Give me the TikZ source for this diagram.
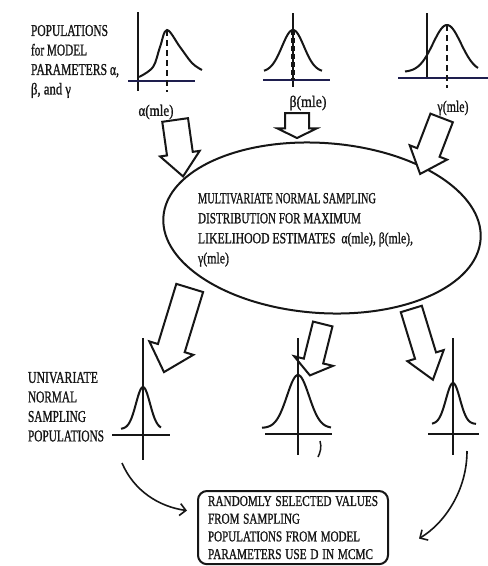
\documentclass[tikz,border=0pt]{standalone}
\usepackage{fontspec}
\usepackage{graphicx}
\setmainfont{Liberation Serif}
\newfontfamily\scanfont[FakeBold=1.2]{Liberation Serif}
\usepackage{tikz}
\usetikzlibrary{shapes.geometric,shapes.arrows,arrows.meta}
\definecolor{inkblack}{RGB}{22,22,22}
\definecolor{axisnavy}{RGB}{30,30,78}
% squeeze one line of text to the width it has on the page
\newcommand{\fitw}[2]{\resizebox{#1}{\height}{#2}}

\begin{document}
\begin{tikzpicture}[x=1pt, y=-1pt, inkblack, line width=2pt,
      lab/.style = {font={\scanfont\fontsize{16.5}{19.5}\selectfont},
                    align=left, inner sep=0pt, anchor=north west},
      plotlab/.style = {font={\scanfont\fontsize{16}{19}\selectfont}, inner sep=0pt},
      elltext/.style = {font={\scanfont\fontsize{15.5}{20}\selectfont},
                    align=left, inner sep=0pt, anchor=north west},
      selbox/.style = {draw, rounded corners=9pt, anchor=north west,
                    text width=170pt, inner xsep=10pt, inner ysep=5pt, align=left,
                    font={\scanfont\fontsize{15}{17.7}\selectfont}},
      barr/.style = {single arrow, draw, fill=white, anchor=tail, inner xsep=0pt,
                    single arrow head indent=0pt},
      axis/.style = {axisnavy, line width=1.7pt},
      mle/.style = {dash pattern=on 6pt off 4pt, line width=2pt},
      curv/.style = {line width=1.6pt, -{Straight Barb[length=6pt,width=12pt]}},
    ]
    \fill[white] (0,0) rectangle (488,566);
    \useasboundingbox (0,0) rectangle (488,566);

    % populations of the model parameters
    \node[lab] (poplab) at (30,24) {\fitw{77pt}{POPULATIONS}\\\fitw{56pt}{for MODEL}\\
      \fitw{88pt}{PARAMETERS α,}\\\fitw{40pt}{β, and γ}};

    \draw (138,12) -- (138,91);
    \draw[axis] (128,81) -- (195,81);
    \draw plot[smooth, tension=0.6] coordinates
      {(139,77) (153,67) (160,47) (167,30) (180,47) (192,63) (202,70)};
    \draw[mle] (167,30) -- (167,92);
    \node[plotlab] (alab) at (156,112) {\fitw{35pt}{α(mle)}};

    \draw (293,13) -- (293,87);
    \draw[axis] (263,80) -- (330,80);
    \draw plot[domain=-29:29, samples=60, smooth]
      ({293+\x}, {72-42*exp(-0.5*(\x/11)*(\x/11))});
    \draw[dash pattern=on 5pt off 3pt, line width=3.4pt] (293,30) -- (293,80);
    \node[plotlab] (blab) at (308,103) {\fitw{37pt}{β(mle)}};

    \draw (427,13) -- (427,78);
    \draw[axis] (398,78) -- (488,78);
    \draw plot[domain=-42:31, samples=60, smooth]
      ({447+\x}, {72-47*exp(-0.5*(\x/14)*(\x/14))});
    \draw[mle] (447,25) -- (447,88);
    \node[plotlab] (glab) at (453,108) {\fitw{31pt}{γ(mle)}};

    % multivariate sampling distribution
    \node[draw, ellipse, minimum width=318pt, minimum height=170pt,
          inner sep=0pt, rotate=-4] (mvn) at (322,228) {};
    \node[elltext] (mvntext) at (197,192)
      {\fitw{178pt}{MULTIVARIATE NORMAL SAMPLING}\\\fitw{163pt}{DISTRIBUTION FOR MAXIMUM}\\
       \fitw{215pt}{LIKELIHOOD ESTIMATES\ \ α(mle), β(mle),}\\\fitw{31pt}{γ(mle)}};

    \node[barr, inner ysep=12pt, single arrow head extend=7pt,
          single arrow tip angle=82, minimum height=57pt, rotate=-82] (aarr) at (175,119) {};
    \node[barr, inner ysep=11pt, single arrow head extend=7.5pt,
          single arrow tip angle=128, minimum height=25pt, rotate=-90] (barr) at (297,112) {};
    \node[barr, inner ysep=11pt, single arrow head extend=8pt,
          single arrow tip angle=82, minimum height=60pt, rotate=-111] (garr) at (442,117) {};

    % univariate sampling populations
    \node[barr, inner ysep=13pt, single arrow head extend=9pt,
          single arrow tip angle=85, minimum height=88pt, rotate=-107] (larr) at (190,287) {};
    \node[barr, inner ysep=9pt, single arrow head extend=10pt,
          single arrow tip angle=107, minimum height=53pt, rotate=-104] (marr) at (323,323) {};
    \node[barr, inner ysep=10pt, single arrow head extend=8pt,
          single arrow tip angle=74, minimum height=74pt, rotate=-73] (rarr) at (411,308) {};

    \node[lab] (unilab) at (27,371) {\fitw{70pt}{UNIVARIATE}\\\fitw{49pt}{NORMAL}\\
      \fitw{58pt}{SAMPLING}\\\fitw{76pt}{POPULATIONS}};

    \draw (143,338) -- (143,460);
    \draw (112,435) -- (170,435);
    \draw plot[domain=-22:18, samples=50, smooth]
      ({143+\x}, {429-42*exp(-0.5*(\x/7)*(\x/7))});

    \draw (298,338) -- (298,455);
    \draw (265,434) -- (332,434);
    \draw plot[domain=-36:33, samples=60, smooth]
      ({298+\x}, {428-53*exp(-0.5*(\x/11)*(\x/11))});

    \draw (453,338) -- (453,455);
    \draw (428,434) -- (479,434);
    \draw plot[domain=-21:23, samples=50, smooth]
      ({453+\x}, {424-41*exp(-0.5*(\x/7)*(\x/7))});

    % randomly selected values
    \node[selbox] (box) at (197,490)
      {\fitw{170pt}{RANDOMLY SELECTED VALUES}\\\fitw{92pt}{FROM SAMPLING}\\
       \fitw{152pt}{POPULATIONS FROM MODEL}\\\fitw{165pt}{PARAMETERS USE D IN MCMC}};

    \coordinate (lstart) at (122,463);
    \coordinate (rstart) at (467,451);
    \coordinate (tickA) at (320,441);
    \coordinate (tickB) at (318,457);

    \draw[curv] (lstart) .. controls +(12,28) and +(-28,-4) .. ([xshift=-10pt, yshift=17pt]box.west);
    \draw[curv] (rstart) .. controls +(0,40) and +(25,-15) .. ([xshift=30pt, yshift=-11pt]box.east);
    \draw[line width=1.5pt] (tickA) .. controls +(2,6) and +(2,-4) .. (tickB);
  \end{tikzpicture}
\end{document}
